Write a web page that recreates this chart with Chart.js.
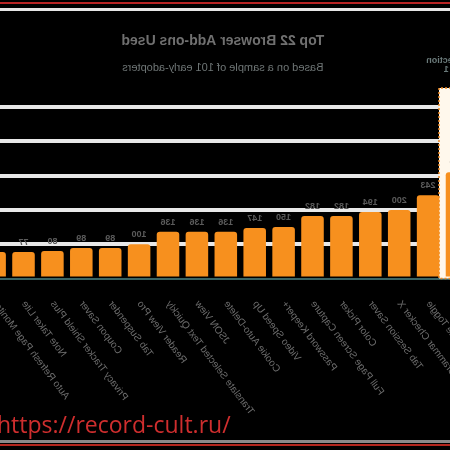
<!DOCTYPE html>
<html><head><meta charset="utf-8">
<script src="https://cdn.jsdelivr.net/npm/chart.js@4.4.1/dist/chart.umd.min.js"></script>
<style>
html,body{margin:0;padding:0;background:#000;width:450px;height:450px;overflow:hidden}
#mirror{position:absolute;left:0;top:0;width:450px;height:450px;overflow:hidden;transform:scaleX(-1)}
#wrap{position:absolute;left:-60px;top:0;width:560px;height:450px}
.ln{position:absolute;left:0;width:450px}
#wm{position:absolute;left:-3px;top:408px;font:23px "Open Sans",sans-serif;color:#cf2e2e;white-space:nowrap}
</style></head><body>
<div id="mirror"><div id="wrap"><canvas id="c" width="560" height="450"></canvas></div></div>
<div class="ln" style="top:2px;height:2px;background:#b82424"></div>
<div class="ln" style="top:8px;height:3px;background:#e6e6e6"></div>
<div class="ln" style="top:440px;height:3px;background:#8a8a8a"></div>
<div class="ln" style="top:444px;height:2px;background:#b3261e"></div>
<div id="wm">https://record-cult.ru/</div>
<script>
const titleText = 'Top 22 Browser Add-ons Used';
const subtitleText = 'Based on a sample of 101 early-adopters';
const categories = [
  'Ad Blocker Ultimate', 'Dark Mode Toggle', 'Grammar Checker X', 'Tab Session Saver',
  'Color Picker', 'Full Page Screen Capture', 'Password Keeper+', 'Video Speed Up',
  'Cookie Auto-Delete', 'JSON View', 'Translate Selected Text Quickly', 'Reader View Pro',
  'Tab Suspender', 'Coupon Saver', 'Privacy Tracker Shield Plus', 'Note Taker Lite',
  'Auto Refresh Page Monitor'
];
const values = [310, 243, 200, 194, 182, 182, 150, 147, 136, 136, 136, 100, 89, 89, 80, 77, 77];
const yTicks = [0, 100, 200, 300, 400, 500];
const highlightIndex = 0;
const highlightNote = ['Your selection', 'rank 1'];

const highlightPlugin = {
  id: 'highlight',
  beforeDatasetsDraw(chart) {
    const el = chart.getDatasetMeta(0).data[highlightIndex];
    const ctx = chart.ctx, top = 88, bottom = chart.chartArea.bottom;
    ctx.save();
    ctx.fillStyle = '#fff8ec';
    ctx.fillRect(el.x - 18, top, 36, bottom - top);
    ctx.setLineDash([2, 2]);
    ctx.strokeStyle = '#f08a24';
    ctx.lineWidth = 1.5;
    ctx.strokeRect(el.x - 18, top, 36, bottom - top);
    ctx.setLineDash([]);
    ctx.fillStyle = '#6a7a7a';
    ctx.font = 'bold 9px "Liberation Sans", Arial, sans-serif';
    ctx.textAlign = 'center';
    ctx.textBaseline = 'middle';
    ctx.fillText(highlightNote[0], el.x, 61);
    ctx.fillText(highlightNote[1], el.x, 70);
    ctx.restore();
  },
  afterDatasetsDraw(chart) {
    const ctx = chart.ctx;
    ctx.save();
    ctx.fillStyle = '#5b5b5b';
    ctx.font = 'bold 9px "Liberation Sans", Arial, sans-serif';
    ctx.textAlign = 'center';
    ctx.textBaseline = 'bottom';
    chart.getDatasetMeta(0).data.forEach((el, i) => {
      ctx.fillText(String(values[i]), el.x, el.y - 5);
    });
    ctx.restore();
  }
};

new Chart(document.getElementById('c'), {
  type: 'bar',
  data: {
    labels: categories,
    datasets: [{
      data: values,
      backgroundColor: '#f7901e',
      borderRadius: 3,
      borderSkipped: 'start',
      barPercentage: 0.78,
      categoryPercentage: 1
    }]
  },
  options: {
    responsive: false,
    animation: false,
    layout: { padding: { top: 24, left: 38.55, right: 24.15, bottom: 0 } },
    plugins: {
      legend: { display: false },
      tooltip: { enabled: false },
      title: {
        display: true, text: titleText, color: '#707070',
        font: { family: '"Liberation Sans", Arial, sans-serif', size: 14, weight: 'bold' },
        padding: { top: 8.6, bottom: 6 }
      },
      subtitle: {
        display: true, text: subtitleText, color: '#6f7676',
        font: { family: '"Liberation Sans", Arial, sans-serif', size: 11 },
        padding: { top: 6, bottom: 32.4 }
      }
    },
    scales: {
      x: {
        z: 1,
        grid: { display: false },
        border: { display: true, color: '#3a6464', width: 2 },
        ticks: {
          color: '#6e6e6e', autoSkip: false, minRotation: 53, maxRotation: 53, padding: 12,
          font: { family: '"Liberation Sans", Arial, sans-serif', size: 10 }
        },
        afterFit(s) { s.paddingLeft = 0; s.paddingRight = 0; s.height = 171.5; }
      },
      y: {
        position: 'right',
        min: 0, max: 500,
        afterBuildTicks(s) { s.ticks = yTicks.map(v => ({ value: v })); },
        grid: {
          drawTicks: false, lineWidth: 4,
          color: c => (c.tick && c.tick.value === 0) ? 'rgba(0,0,0,0)' : '#e8e8e8'
        },
        border: { display: false },
        ticks: { display: false },
        afterFit(s) { s.width = 6; }
      }
    }
  },
  plugins: [highlightPlugin]
});
</script>
</body></html>
